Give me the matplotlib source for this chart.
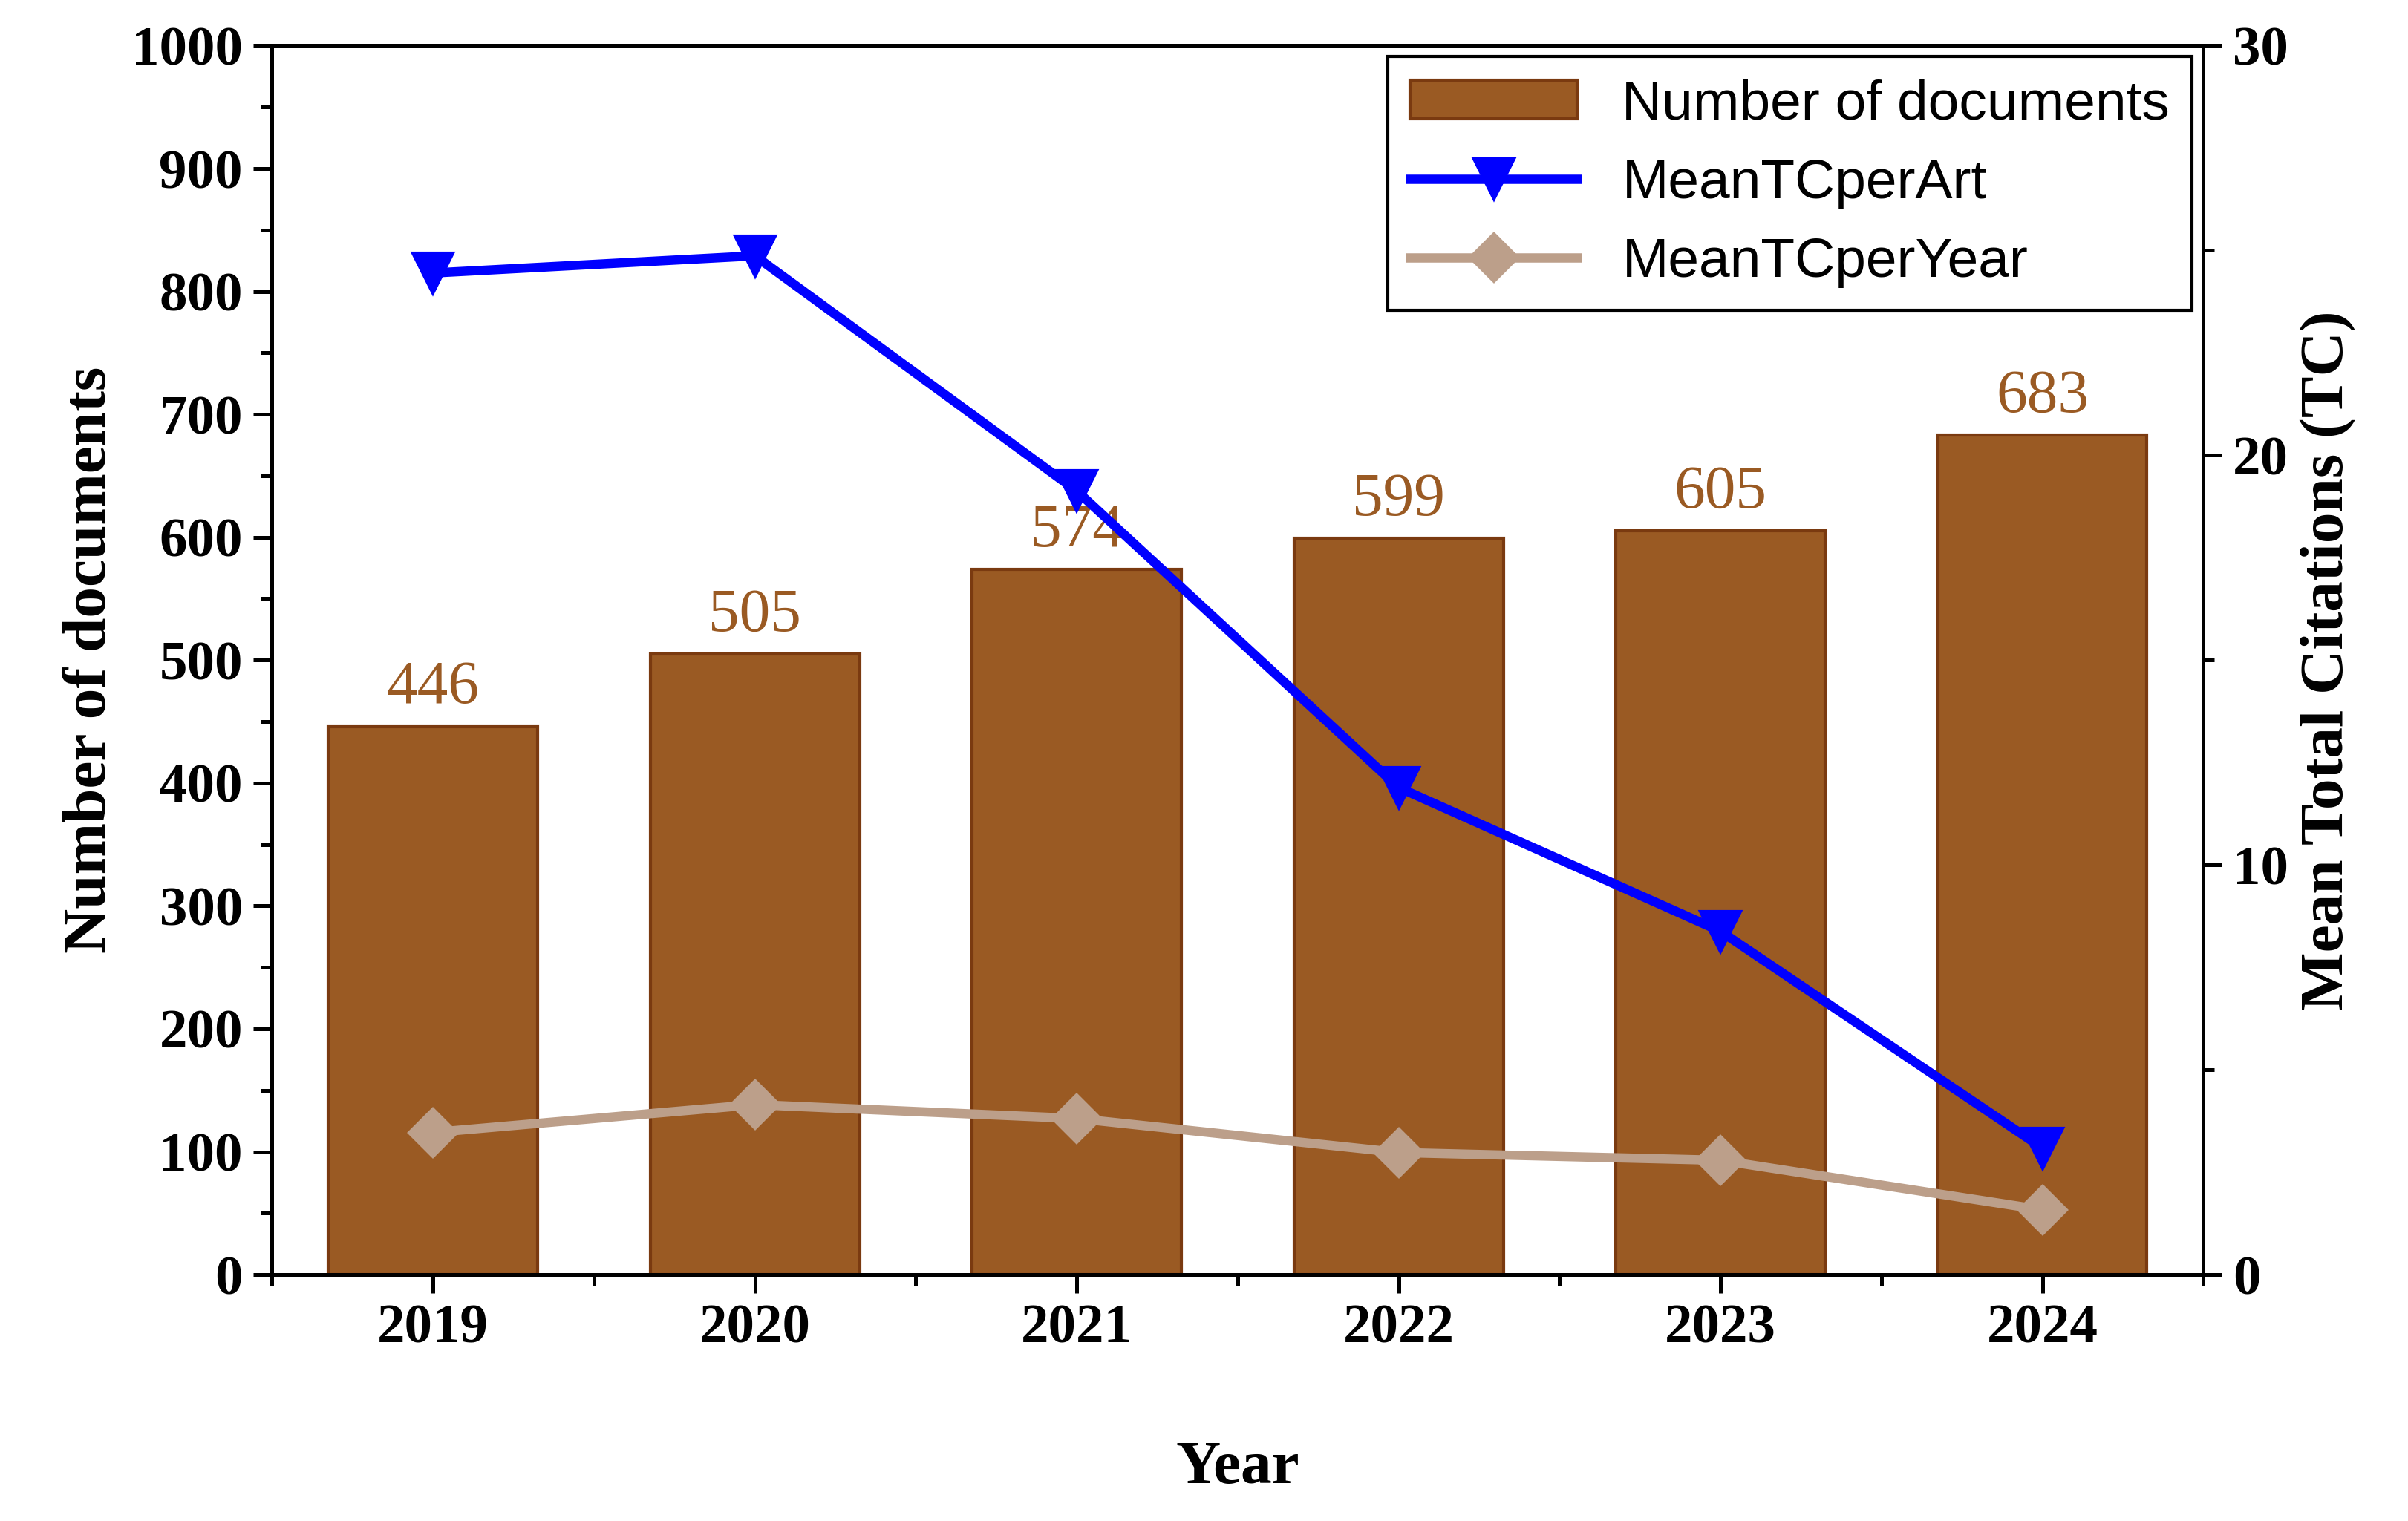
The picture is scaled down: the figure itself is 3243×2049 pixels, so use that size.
import matplotlib.pyplot as plt
from matplotlib.ticker import MultipleLocator

years = [2019, 2020, 2021, 2022, 2023, 2024]
docs = [446, 505, 574, 599, 605, 683]
mean_tc_art = [24.45, 24.87, 19.13, 11.89, 8.38, 3.09]
mean_tc_year = [3.47, 4.15, 3.81, 2.98, 2.79, 1.58]

serif = 'Liberation Serif'
plt.rcParams['font.family'] = serif

fig = plt.figure(figsize=(10.81, 6.83), dpi=300)
ax = fig.add_axes([0.113, 0.162, 0.802, 0.808])
bars = ax.bar(years, docs, width=0.65, color='#9a5a23', edgecolor='#7a3a10', linewidth=1,
              label='Number of documents')
for x, v in zip(years, docs):
    ax.text(x, v + 8, str(v), ha='center', va='bottom', color='#9a5a23', fontsize=20, family=serif)
ax.set_xlim(2018.5, 2024.5)
ax.set_ylim(0, 1000)
ax.yaxis.set_major_locator(MultipleLocator(100))
ax.yaxis.set_minor_locator(MultipleLocator(50))
ax.set_xticks(years)
ax.set_xticklabels([str(y) for y in years])
ax.set_xlabel('Year', fontsize=20, fontweight='bold', labelpad=28)
ax.set_ylabel('Number of documents', fontsize=20, fontweight='bold')

ax2 = ax.twinx()
l1, = ax2.plot(years, mean_tc_art, color='#0000ff', lw=3, marker='v', ms=13, label='MeanTCperArt')
l2, = ax2.plot(years, mean_tc_year, color='#bc9f8a', lw=3, marker='D', ms=11, label='MeanTCperYear')
ax2.set_ylim(0, 30)
ax2.yaxis.set_major_locator(MultipleLocator(10))
ax2.yaxis.set_minor_locator(MultipleLocator(5))
ax2.set_ylabel('Mean Total Citations (TC)', fontsize=20, fontweight='bold')

for a in (ax, ax2):
    a.tick_params(which='major', direction='out', length=6, width=1.2, labelsize=18)
    a.tick_params(which='minor', direction='out', length=3.5, width=1.2)
    for lab in a.get_xticklabels() + a.get_yticklabels():
        lab.set_fontweight('bold')
    for s in a.spines.values():
        s.set_linewidth(1.2)
ax.xaxis.set_minor_locator(MultipleLocator(0.5))

leg = ax2.legend([bars, l1, l2], ['Number of documents', 'MeanTCperArt', 'MeanTCperYear'],
                 loc='upper right', bbox_to_anchor=(1.0, 1.0), fancybox=False, edgecolor='black',
                 prop={'family': 'Liberation Sans', 'size': 18}, borderaxespad=0.2,
                 handlelength=3, framealpha=1)
leg.get_frame().set_linewidth(1)

fig.savefig('out.png', dpi=300)
